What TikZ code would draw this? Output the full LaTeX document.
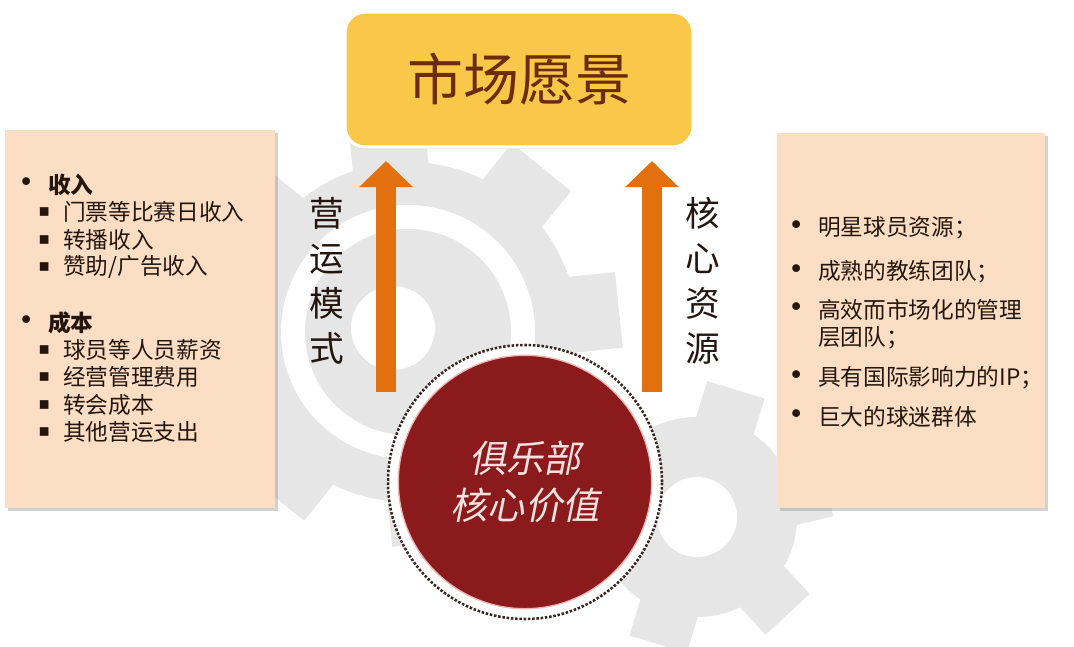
\documentclass[tikz,border=0pt]{standalone}
\usepackage{fontspec}
\setmainfont{Noto Sans CJK SC}
\newfontfamily\symfont{DejaVu Sans}
\newfontfamily\slantfont{Noto Sans CJK SC}[FakeSlant=0.2]
\usepackage{xcolor}
\usepackage{tikz}
\usetikzlibrary{arrows.meta,shadows}

\definecolor{gearbg}{HTML}{E6E6E6}
\definecolor{peach}{HTML}{FCDEC4}
\definecolor{gold}{HTML}{F9C848}
\definecolor{titlebrown}{HTML}{6E2B0C}
\definecolor{flow}{HTML}{E3700E}
\definecolor{clubred}{HTML}{8A1A1C}
\definecolor{clubtext}{HTML}{F8E2E0}
\definecolor{ink}{HTML}{24160E}
\definecolor{dotink}{HTML}{3A2424}

\begin{document}
\begin{tikzpicture}[x=0.75pt,y=-0.75pt,
  gear/.style={fill=gearbg},
  panel/.style={fill=peach,inner sep=0pt,
    drop shadow={shadow xshift=2pt,shadow yshift=-2pt,opacity=.35}},
  item/.style={anchor=west,text=ink,inner sep=0pt,
    font=\fontsize{17}{20}\selectfont},
  bullet/.style={anchor=west,text=ink,inner sep=0pt,
    font=\symfont\fontsize{13}{15}\selectfont},
  bigdot/.style={bullet,font=\symfont\fontsize{20}{22}\selectfont},
  updart/.style={draw=flow,line width=15pt,
    -{Triangle[length=19.5pt,width=39pt]}},
  vlabel/.style={align=center,text=ink,inner sep=0pt,
    font=\fontsize{26}{33.75}\selectfont}]
\useasboundingbox[fill=white] (0,0) rectangle (1074,646);

% gears behind
\fill[gear] (408,332) circle[radius=170];
\foreach \a in {6,51,...,321}
  \fill[gear,shift={(408,332)},rotate=\a] (0,-38) rectangle (212,38);
\fill[white] (408,332) circle[radius=127];
\fill[gear] (408,332) circle[radius=103];
\fill[white] (393,328) circle[radius=42];
\fill[gear] (697,517) circle[radius=100];
\foreach \a in {13,73,...,313}
  \fill[gear,shift={(697,517)},rotate=\a] (0,-30) rectangle (133,30);
\fill[white] (697,517) circle[radius=40];

% boxes
\node[panel,minimum width=202.5pt,minimum height=283.5pt] (ops) at (140,319) {};
\node[panel,minimum width=201pt,minimum height=281.25pt] (res) at (911,320.5) {};
\node[fill=gold,draw=white,line width=2.5pt,rounded corners=15pt,
  minimum width=261pt,minimum height=101.25pt,text=titlebrown,
  font=\fontsize{42}{46}\selectfont,
  drop shadow={shadow xshift=0pt,shadow yshift=-1.5pt,opacity=.3}]
  (vision) at (519,79.5) {市场愿景};

% left list
\node[bigdot] (b1) at (18,185) {•};
\node[item,font=\fontsize{17}{20}\selectfont\bfseries] (inc) at (48,185) {收入};
\node[bullet] (s1) at (38,212) {▪};
\node[item] (inc1) at (63,212) {门票等比赛日收入};
\node[bullet] (s2) at (38,240) {▪};
\node[item] (inc2) at (63,240) {转播收入};
\node[bullet] (s3) at (38,267) {▪};
\node[item] (inc3) at (63,267) {赞助/广告收入};
\node[bigdot] (b2) at (18,323) {•};
\node[item,font=\fontsize{17}{20}\selectfont\bfseries] (cost) at (48,323) {成本};
\node[bullet] (s4) at (38,350) {▪};
\node[item] (cost1) at (63,350) {球员等人员薪资};
\node[bullet] (s5) at (38,377) {▪};
\node[item] (cost2) at (63,377) {经营管理费用};
\node[bullet] (s6) at (38,405) {▪};
\node[item] (cost3) at (63,405) {转会成本};
\node[bullet] (s7) at (38,432) {▪};
\node[item] (cost4) at (63,432) {其他营运支出};

% right list
\node[bigdot] (r1) at (788,228) {•};
\node[item] (res1) at (818,228) {明星球员资源；};
\node[bigdot] (r2) at (788,272) {•};
\node[item] (res2) at (818,272) {成熟的教练团队；};
\node[bigdot] (r3) at (788,310) {•};
\node[item] (res3) at (818,310) {高效而市场化的管理};
\node[item] (res3b) at (818,338) {层团队；};
\node[bigdot] (r4) at (788,378) {•};
\node[item] (res4) at (818,378) {具有国际影响力的IP；};
\node[bigdot] (r5) at (788,417) {•};
\node[item] (res5) at (818,417) {巨大的球迷群体};

% arrows and their labels
\coordinate (opsfoot) at (386,392);
\coordinate (opstip) at (386,161);
\coordinate (resfoot) at (652,392);
\coordinate (restip) at (652,161);
\draw[updart] (opsfoot) -- (opstip);
\draw[updart] (resfoot) -- (restip);
\node[vlabel] (opslabel) at (327,281) {营\\运\\模\\式};
\node[vlabel] (reslabel) at (703,281) {核\\心\\资\\源};

% club circle
\node[circle,fill=white,draw=dotink,line width=1.9pt,
  dash pattern=on 1.9pt off 1.3pt,minimum size=205.5pt] (ring) at (525,482) {};
\node[circle,fill=clubred,draw={rgb,255:red,236;green,180;blue,178},
  line width=1pt,minimum size=190pt,align=center,text=clubtext,
  font=\slantfont\fontsize{28}{35}\selectfont] (club) at (525,482)
  {俱乐部\\核心价值};
\end{tikzpicture}
\end{document}
